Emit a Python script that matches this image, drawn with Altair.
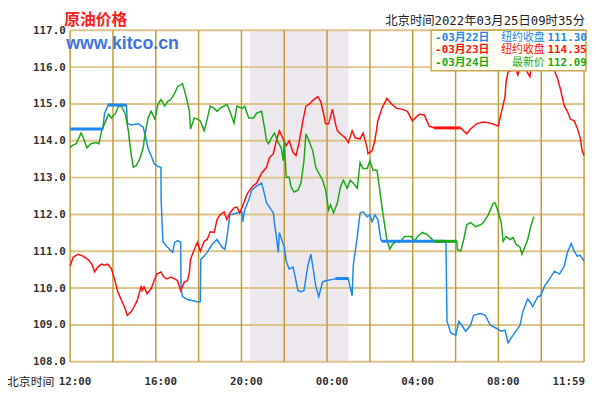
import altair as alt
import pandas as pd

# ---------------- data ----------------
series_names = ["03月22日", "03月23日", "03月24日"]
series_colors = ["#1e88f0", "#ff1010", "#1aa81a"]
legend_labels = ["纽约收盘", "纽约收盘", "最新价"]
legend_values = ["111.30", "114.35", "112.09"]

# (hours after 12:00 Beijing time, price)
blue_pts = [(0, 114.32), (1.52, 114.32), (1.61, 114.75), (1.80, 114.99), (2.63, 114.96), (2.67, 114.48),
            (2.86, 114.43), (3.18, 114.46), (3.41, 114.37), (3.50, 114.16), (3.64, 113.79), (3.78, 113.60),
            (3.92, 113.38), (4.10, 113.30), (4.24, 113.28), (4.25, 112.40), (4.33, 111.27), (4.42, 111.19),
            (4.65, 111.05), (4.79, 110.97), (4.88, 111.24), (5.02, 111.29), (5.16, 111.24), (5.18, 109.98),
            (5.25, 109.77), (5.48, 109.69), (5.94, 109.63), (6.08, 109.63), (6.10, 110.78), (6.26, 110.87),
            (6.40, 110.97), (6.63, 111.19), (6.86, 111.32), (7.09, 111.11), (7.23, 111.05), (7.32, 111.37),
            (7.46, 111.99), (7.79, 112.04), (8.02, 112.07), (8.06, 111.80), (8.15, 112.12), (8.34, 112.39),
            (8.48, 112.66), (8.71, 112.77), (8.94, 112.85), (9.03, 112.66), (9.17, 112.31), (9.31, 112.20),
            (9.49, 112.04), (9.54, 111.78), (9.63, 111.40), (9.72, 110.97), (9.77, 111.51), (9.95, 111.19),
            (10.00, 111.13), (10.09, 110.73), (10.23, 110.52), (10.41, 110.57), (10.46, 110.44), (10.64, 109.93),
            (10.78, 109.90), (10.92, 109.93), (11.10, 110.60), (11.24, 110.92), (11.33, 110.60), (11.47, 110.06),
            (11.61, 109.77), (11.79, 110.17), (11.93, 110.20), (12.39, 110.25), (12.85, 110.28), (12.99, 110.25),
            (13.17, 109.79), (13.22, 110.60), (13.41, 111.40), (13.54, 112.04), (13.68, 112.07), (13.87, 111.94),
            (14.00, 111.99), (14.10, 111.80), (14.23, 111.99), (14.37, 111.86), (14.51, 111.32), (14.56, 111.27),
            (17.55, 111.27), (17.60, 109.10), (17.78, 108.78), (18.01, 108.72), (18.15, 109.10), (18.29, 108.99),
            (18.47, 108.83), (18.70, 108.99), (18.84, 109.26), (19.16, 109.31), (19.39, 109.26), (19.62, 108.99),
            (19.90, 108.91), (20.13, 108.83), (20.31, 108.86), (20.45, 108.51), (20.59, 108.64), (20.82, 108.83),
            (21.01, 108.99), (21.14, 109.36), (21.37, 109.71), (21.60, 109.50), (21.84, 109.77), (21.97, 109.79),
            (22.16, 110.06), (22.39, 110.25), (22.62, 110.46), (22.85, 110.38), (23.08, 110.60), (23.22, 110.97),
            (23.40, 111.21), (23.54, 111.00), (23.68, 110.87), (23.82, 110.89), (24.00, 110.73)]

red_pts = [(0, 110.60), (0.14, 110.84), (0.37, 110.92), (0.60, 110.87), (0.83, 110.78), (1.01, 110.65),
           (1.15, 110.44), (1.29, 110.57), (1.47, 110.65), (1.61, 110.62), (1.75, 110.65), (1.93, 110.52),
           (2.07, 110.25), (2.21, 109.93), (2.40, 109.66), (2.53, 109.50), (2.67, 109.26), (2.86, 109.36),
           (2.99, 109.50), (3.13, 109.66), (3.32, 110.06), (3.36, 109.93), (3.45, 110.03), (3.59, 109.85),
           (3.78, 109.98), (3.92, 110.20), (4.05, 110.38), (4.24, 110.44), (4.38, 110.30), (4.51, 110.25),
           (4.70, 110.30), (4.88, 110.25), (5.02, 110.20), (5.16, 109.93), (5.34, 110.17), (5.48, 110.20),
           (5.57, 110.44), (5.62, 110.78), (5.80, 111.05), (5.94, 111.24), (6.08, 111.00), (6.26, 111.27),
           (6.40, 111.32), (6.54, 111.53), (6.73, 111.51), (6.86, 111.86), (7.00, 111.99), (7.19, 112.07),
           (7.32, 111.86), (7.46, 112.04), (7.65, 112.18), (7.79, 112.20), (7.92, 112.04), (8.11, 112.31),
           (8.25, 112.53), (8.38, 112.66), (8.57, 112.79), (8.71, 112.85), (8.94, 113.12), (9.17, 113.28),
           (9.31, 113.54), (9.49, 113.65), (9.63, 114.00), (9.77, 114.27), (9.95, 114.05), (10.09, 113.87),
           (10.23, 114.00), (10.41, 113.68), (10.55, 113.60), (10.69, 113.95), (10.87, 114.54), (11.01, 114.94),
           (11.15, 114.99), (11.38, 115.12), (11.56, 115.20), (11.70, 115.07), (11.84, 114.72), (11.93, 114.46),
           (12.07, 114.46), (12.25, 114.86), (12.39, 114.46), (12.48, 114.27), (12.62, 114.19), (12.85, 114.08),
           (12.99, 113.95), (13.17, 114.27), (13.31, 114.08), (13.54, 114.05), (13.68, 114.21), (13.87, 113.81),
           (13.91, 113.65), (14.10, 113.73), (14.23, 114.00), (14.37, 114.54), (14.56, 114.88), (14.79, 115.15),
           (15.02, 114.99), (15.25, 114.88), (15.48, 114.86), (15.75, 114.80), (15.98, 114.54), (16.31, 114.72),
           (16.54, 114.70), (16.77, 114.40), (17.00, 114.35), (18.24, 114.35), (18.52, 114.19), (18.70, 114.32),
           (18.98, 114.46), (19.30, 114.51), (19.62, 114.48), (19.99, 114.40), (20.13, 114.75), (20.31, 115.20),
           (20.36, 115.61), (20.45, 115.87), (20.59, 115.90), (20.82, 115.93), (20.91, 115.79), (21.01, 115.98),
           (21.14, 116.14), (21.28, 115.93), (21.47, 115.74), (21.51, 115.90), (21.74, 116.09), (21.97, 115.93),
           (22.30, 116.20), (22.53, 115.93), (22.62, 115.90), (22.76, 115.69), (22.89, 115.42), (23.08, 114.94),
           (23.22, 114.80), (23.36, 114.59), (23.54, 114.54), (23.68, 114.35), (23.82, 114.08), (23.91, 113.73),
           (24.00, 113.60)]

green_pts = [(0, 113.81), (0.09, 113.87), (0.28, 113.92), (0.41, 114.08), (0.51, 114.21), (0.64, 114.05),
             (0.78, 113.81), (0.97, 113.92), (1.20, 113.95), (1.34, 113.92), (1.47, 114.27), (1.66, 114.54),
             (1.80, 114.72), (1.93, 114.62), (2.12, 114.75), (2.26, 114.94), (2.40, 114.94), (2.58, 114.72),
             (2.72, 114.27), (2.81, 113.81), (2.86, 113.60), (2.95, 113.28), (3.09, 113.33), (3.27, 113.54),
             (3.41, 113.81), (3.50, 114.19), (3.64, 114.62), (3.78, 114.80), (3.96, 114.59), (4.10, 114.99),
             (4.24, 115.12), (4.42, 114.94), (4.56, 115.07), (4.70, 115.12), (4.88, 115.29), (5.02, 115.47),
             (5.25, 115.55), (5.39, 115.26), (5.57, 114.80), (5.62, 114.32), (5.80, 114.62), (5.94, 114.59),
             (6.08, 114.54), (6.26, 114.27), (6.40, 114.59), (6.54, 114.94), (6.73, 114.88), (6.86, 114.80),
             (7.00, 114.88), (7.32, 114.99), (7.46, 114.80), (7.65, 114.48), (7.79, 114.94), (8.02, 114.88),
             (8.15, 114.94), (8.34, 114.62), (8.57, 114.62), (8.71, 114.75), (8.94, 114.80), (9.08, 114.35),
             (9.17, 114.00), (9.26, 113.92), (9.40, 114.08), (9.54, 114.21), (9.72, 113.95), (9.86, 113.81),
             (9.95, 113.46), (10.00, 114.00), (10.09, 113.01), (10.23, 113.01), (10.32, 112.74), (10.46, 112.61),
             (10.64, 112.66), (10.78, 112.85), (10.92, 113.46), (11.01, 114.19), (11.15, 114.00), (11.33, 113.73),
             (11.47, 113.28), (11.61, 113.12), (11.79, 112.93), (11.93, 112.66), (12.07, 112.12), (12.16, 112.26),
             (12.30, 112.04), (12.48, 112.31), (12.62, 112.74), (12.76, 112.93), (12.94, 112.71), (13.08, 112.93),
             (13.22, 112.85), (13.41, 112.71), (13.54, 113.41), (13.68, 113.25), (13.87, 113.25), (14.00, 113.46),
             (14.14, 113.20), (14.33, 113.20), (14.46, 112.66), (14.60, 112.04), (14.79, 111.32), (14.93, 111.05),
             (15.06, 111.19), (15.25, 111.27), (15.39, 111.24), (15.62, 111.40), (15.94, 111.40), (16.08, 111.27),
             (16.22, 111.40), (16.45, 111.51), (16.68, 111.45), (16.91, 111.32), (17.00, 111.27), (18.06, 111.27),
             (18.08, 111.05), (18.24, 111.00), (18.38, 111.32), (18.52, 111.72), (18.70, 111.78), (18.93, 111.67),
             (19.16, 111.72), (19.30, 111.78), (19.53, 111.99), (19.76, 112.31), (19.85, 112.31), (19.99, 112.07),
             (20.13, 111.78), (20.22, 111.27), (20.36, 111.40), (20.55, 111.32), (20.68, 111.37), (20.82, 111.19),
             (21.01, 111.11), (21.10, 110.92), (21.24, 111.13), (21.37, 111.32), (21.51, 111.67), (21.65, 111.94)]

# flat (market closed) stretches drawn thicker
bold_series = ["03月22日", "03月22日", "03月22日", "03月22日", "03月23日", "03月24日"]
bold_start = [0, 1.80, 12.39, 14.56, 17.00, 17.00]
bold_end = [1.52, 2.63, 12.99, 17.55, 18.24, 18.06]
bold_price = [114.32, 114.97, 110.26, 111.27, 114.35, 111.27]

y_ticks = [108, 109, 110, 111, 112, 113, 114, 115, 116, 117]
x_grid = [0, 2, 4, 6, 8, 10, 12, 14, 16, 18, 20, 22, 24]
x_label_hours = [0, 4, 8, 12, 16, 20]
x_label_text = ["12:00", "16:00", "20:00", "00:00", "04:00", "08:00"]
x_last_hour = [24]
x_last_text = ["11:59"]
shade_start = [8.4]
shade_end = [13.0]

title_text = "原油价格"
site_text = "www.kitco.cn"
header_text = "北京时间2022年03月25日09时35分"
xaxis_title = "北京时间"

# ---------------- build ----------------
W, H = 521, 336
MONO = "DejaVu Sans Mono, Noto Sans CJK SC"

rows = []
for name, pts in zip(series_names, [blue_pts, red_pts, green_pts]):
    for h, p in pts:
        rows.append({"s": name, "h": h, "p": p})
df = pd.DataFrame(rows)

xs = alt.Scale(domain=[0, 24], nice=False, zero=False)
ys = alt.Scale(domain=[108, 117], nice=False, zero=False)
yaxis = alt.Axis(values=y_ticks, format=".1f", ticks=False, domain=False, grid=False,
                 labelFont="DejaVu Sans Mono", labelFontWeight="bold", labelFontSize=11,
                 labelColor="#333333", labelPadding=5, title=None)
cscale = alt.Scale(domain=series_names, range=series_colors)

shade = alt.Chart(pd.DataFrame({"a": shade_start, "b": shade_end})).mark_rect(color="#ece8ee").encode(
    x=alt.X("a:Q", scale=xs, axis=None), x2="b:Q", y=alt.value(0), y2=alt.value(H))

hgrid = alt.Chart(pd.DataFrame({"p": y_ticks})).mark_rule(color="#dcc48a", strokeWidth=2).encode(
    y=alt.Y("p:Q", scale=ys, axis=yaxis))

vgrid = alt.Chart(pd.DataFrame({"h": x_grid})).mark_rule(color="#c29c34", strokeWidth=1.5).encode(
    x=alt.X("h:Q", scale=xs, axis=None))

lines = alt.Chart(df).mark_line(strokeWidth=1.5, interpolate="linear").encode(
    x=alt.X("h:Q", scale=xs, axis=None),
    y=alt.Y("p:Q", scale=ys, axis=yaxis),
    color=alt.Color("s:N", scale=cscale, legend=None),
    order="h:Q")

bold = alt.Chart(pd.DataFrame({"s": bold_series, "a": bold_start, "b": bold_end, "p": bold_price})).mark_rule(
    strokeWidth=3).encode(
    x=alt.X("a:Q", scale=xs, axis=None), x2="b:Q",
    y=alt.Y("p:Q", scale=ys, axis=yaxis),
    color=alt.Color("s:N", scale=cscale, legend=None))

xlab = alt.Chart(pd.DataFrame({"h": x_label_hours, "t": x_label_text})).mark_text(
    align="center", baseline="middle", dx=5, font="DejaVu Sans Mono", fontWeight="bold", fontSize=11,
    color="#333333").encode(x=alt.X("h:Q", scale=xs, axis=None), y=alt.value(H + 21), text="t:N")

xlab_last = alt.Chart(pd.DataFrame({"h": x_last_hour, "t": x_last_text})).mark_text(
    align="right", baseline="middle", dx=1, font="DejaVu Sans Mono", fontWeight="bold", fontSize=11,
    color="#333333").encode(x=alt.X("h:Q", scale=xs, axis=None), y=alt.value(H + 21), text="t:N")

xtitle = alt.Chart(pd.DataFrame({"t": [xaxis_title]})).mark_text(
    align="left", baseline="middle", font="Noto Sans CJK SC", fontSize=12, color="#222222").encode(
    x=alt.value(-64), y=alt.value(H + 21), text="t:N")

legend_box = alt.Chart(pd.DataFrame({"k": [1]})).mark_rect(
    fill="#fffff4", stroke="#c8a850", strokeWidth=1.5).encode(
    x=alt.value(366), x2=alt.value(523), y=alt.value(0), y2=alt.value(41))

legend_layers = []
row_y = [7.5, 20.5, 33.5]
for i, name in enumerate(series_names):
    d = pd.DataFrame({"s": [name], "date": ["-" + name], "lab": [legend_labels[i]], "val": [legend_values[i]]})
    base = alt.Chart(d)
    col = alt.Color("s:N", scale=cscale, legend=None)
    legend_layers.append(base.mark_text(align="left", baseline="middle", font=MONO, fontSize=11,
                                        fontWeight="bold").encode(
        x=alt.value(370), y=alt.value(row_y[i]), text="date:N", color=col))
    legend_layers.append(base.mark_text(align="right", baseline="middle", font="Noto Sans CJK SC",
                                        fontSize=11).encode(
        x=alt.value(481), y=alt.value(row_y[i]), text="lab:N", color=col))
    legend_layers.append(base.mark_text(align="left", baseline="middle", font="DejaVu Sans Mono",
                                        fontSize=11, fontWeight="bold").encode(
        x=alt.value(484), y=alt.value(row_y[i]), text="val:N", color=col))

title_t = alt.Chart(pd.DataFrame({"t": [title_text]})).mark_text(
    align="left", baseline="middle", font="Noto Sans CJK SC", fontSize=16, fontWeight="bold",
    color="#ff2020").encode(x=alt.value(-6), y=alt.value(-10), text="t:N")

site_t = alt.Chart(pd.DataFrame({"t": [site_text]})).mark_text(
    align="left", baseline="middle", font="Liberation Sans", fontSize=18, fontWeight="bold",
    color="#3f74e0").encode(x=alt.value(-4), y=alt.value(14), text="t:N")

header_t = alt.Chart(pd.DataFrame({"t": [header_text]})).mark_text(
    align="right", baseline="middle", font=MONO, fontSize=12.5, color="#222222").encode(
    x=alt.value(522), y=alt.value(-9), text="t:N")

chart = alt.layer(shade, hgrid, vgrid, lines, bold, xlab, xlab_last, xtitle, site_t, legend_box,
                  *legend_layers, title_t, header_t).properties(
    width=W, height=H,
    padding={"left": 63, "top": 20, "right": 4, "bottom": 24},
    autosize=alt.AutoSizeParams(type="none"),
    background="white",
).configure_view(stroke=None)

chart.save("out.html", embed_options={"renderer": "svg", "actions": False})
